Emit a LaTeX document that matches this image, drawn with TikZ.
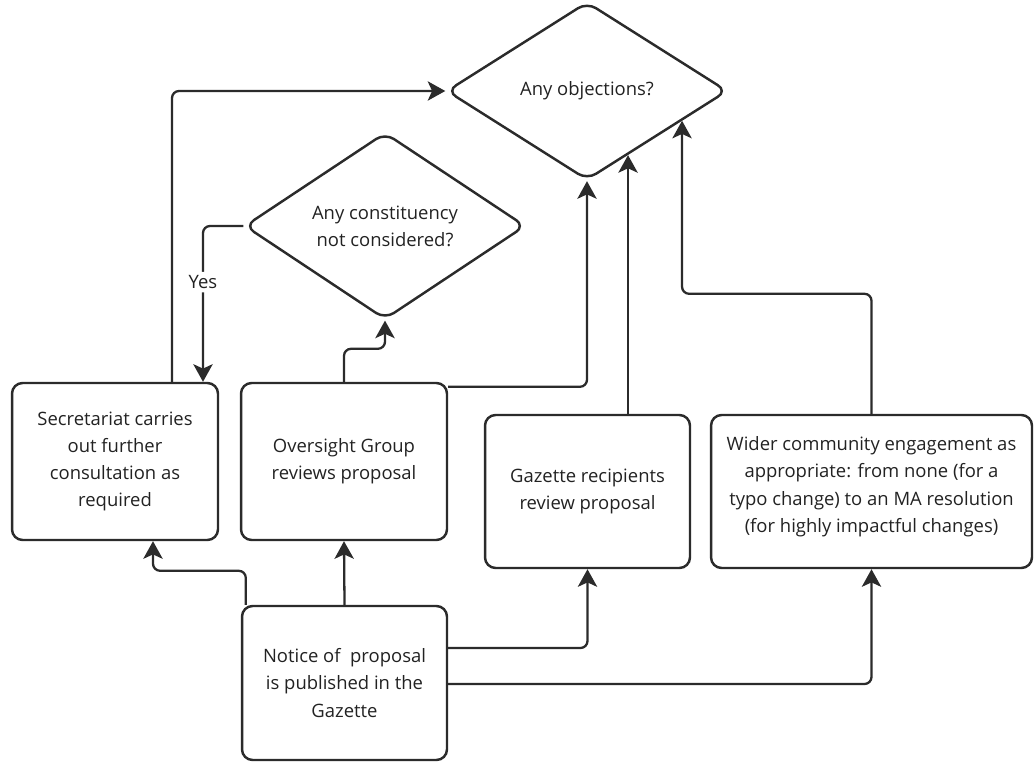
\documentclass[tikz,border=0pt]{standalone}
\usepackage{fontspec}
\setmainfont{Open Sans}
\usetikzlibrary{shapes.geometric, arrows.meta, positioning, calc}
\definecolor{linecol}{HTML}{2B2B2B}
\definecolor{textcol}{HTML}{222222}

\begin{document}
\begin{tikzpicture}[x=0.02cm, y=-0.02cm,
  box/.style={draw=linecol, line width=1.4pt, rounded corners=6pt, align=center, text=textcol, inner sep=2pt, font=\fontsize{10.5}{15.4}\selectfont},
  decision/.style={diamond, draw=linecol, line width=1.4pt, rounded corners=6pt, align=center, text=textcol, minimum width=5.62cm, minimum height=3.56cm, inner sep=0pt, font=\fontsize{10.5}{15.4}\selectfont},
  link/.style={draw=linecol, line width=1.3pt, rounded corners=4pt, -{Stealth[length=10pt, width=11pt, inset=2.5pt]}}
]
\useasboundingbox (0,0) rectangle (1034,763);

% Decisions
\node[decision] (obj) at (587,91) {Any objections?};
\node[decision] (const) at (385,226) {Any constituency\\not considered?};

% Middle row
\node[box, minimum width=4.12cm, minimum height=3.14cm] (secr) at (115,461.5) {Secretariat carries\\out further\\consultation as\\required};
\node[box, minimum width=4.12cm, minimum height=3.14cm] (overs) at (344,461.5) {Oversight Group\\reviews proposal};
\node[box, minimum width=4.1cm, minimum height=3.06cm] (gaz) at (587.5,491.5) {Gazette recipients\\review proposal};
\node[box, minimum width=6.42cm, minimum height=3.06cm, text depth=0.28cm] (wid) at (871.5,491.5) {Wider community engagement as\\appropriate: from none (for a\\typo change) to an MA resolution\\(for highly impactful changes)};

% Bottom
\node[box, minimum width=4.1cm, minimum height=3.08cm] (notice) at (344.5,683) {Notice of~ proposal\\is published in the\\Gazette};

% Points on the lower right edge of the objections diamond
\coordinate (ga) at ($(obj.south)+(41,0)$);
\coordinate (gb) at ($(obj.south)+(41,-100)$);
\coordinate (ge) at (intersection of ga--gb and obj.south--obj.east);
\coordinate (wa) at ($(obj.south)+(95,0)$);
\coordinate (wb) at ($(obj.south)+(95,-100)$);
\coordinate (we) at (intersection of wa--wb and obj.south--obj.east);

% Arrows
\draw[link] ($(secr.north)+(57,0)$) |- (obj.west);
\draw[link] (const.west) -| node[pos=0.68, fill=white, text=textcol, inner sep=2pt, font=\fontsize{10.5}{12}\selectfont] {Yes} ($(secr.north)+(88,0)$);
\draw[link] (overs.north) -- ++(0,-33) -| (const.south);
\draw[link] ($(overs.north east)+(0,5)$) -| (obj.south);
\draw[link] (gaz.north -| ge) -- (ge);
\draw[link] (wid.north) -- ++(0,-120) -| (we);
\draw[link] ($(notice.north west)+(5,0)$) -- ++(0,-34) -| ($(secr.south)+(38,0)$);
\draw[link] (notice.north) -- (overs.south);
\draw[link] ($(notice.east)+(0,-35)$) -| (gaz.south);
\draw[link] ($(notice.east)+(0,1)$) -| (wid.south);
\end{tikzpicture}
\end{document}
